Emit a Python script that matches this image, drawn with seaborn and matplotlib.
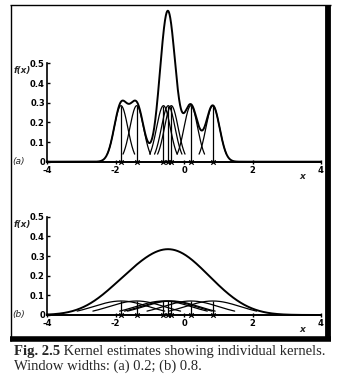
import numpy as np
import seaborn as sns
import matplotlib
matplotlib.use("Agg")
import matplotlib.pyplot as plt
from matplotlib.lines import Line2D

# ---- data ----
data_points = [-1.84, -1.38, -0.60, -0.46, -0.37, 0.20, 0.84]
window_widths = [0.2, 0.8]
kernel_extent = [2.0, 1.6]          # drawn half-width of each kernel, in window widths
panel_labels = ["(a)", "(b)"]
x_ticks = [-4, -2, 0, 2, 4]
x_tick_labels = ["-4", "-2", "0", "2", "4"]
y_ticks = [0, 0.1, 0.2, 0.3, 0.4, 0.5]
y_tick_labels = ["0", "0.1", "0.2", "0.3", "0.4", "0.5"]
caption_bold = "Fig. 2.5"
caption_rest = " Kernel estimates showing individual kernels."
caption_line2 = "Window widths: (a) 0.2; (b) 0.8."

sns.set_style("white")
plt.rcParams['font.family'] = ['DejaVu Sans']
plt.rcParams['axes.unicode_minus'] = False

W, H = 338, 383
fig = plt.figure(figsize=(W / 100, H / 100), dpi=100)
fig.patch.set_facecolor("white")


def fx(x):
    return x / W


def fy(y):
    return 1 - y / H


# axes geometry (pixels)
x_left, x_right = 47, 321
px_per_unit = 196.6
panels = [
    dict(y0=161.7, ymax=0.8),
    dict(y0=315.0, ymax=0.5),
]

n = len(data_points)
pts = np.array(data_points)
for i, (h, ext, p) in enumerate(zip(window_widths, kernel_extent, panels)):
    height_px = p["ymax"] * px_per_unit
    ax = fig.add_axes([fx(x_left), fy(p["y0"]), (x_right - x_left) / W, height_px / H])
    ax.set_facecolor("none")
    grid = np.linspace(-4, 4, 1601)
    dens = np.zeros_like(grid)
    peak = 1 / (n * h * np.sqrt(2 * np.pi))
    for xi in pts:
        dens += peak * np.exp(-0.5 * ((grid - xi) / h) ** 2)
        g = np.linspace(xi - ext * h, xi + ext * h, 200)
        k = peak * np.exp(-0.5 * ((g - xi) / h) ** 2)
        sns.lineplot(x=g, y=k, ax=ax, color="black", lw=0.9, sort=False, clip_on=False)
    sns.lineplot(x=grid, y=dens, ax=ax, color="black", lw=1.4, sort=False, clip_on=False)
    ax.vlines(pts, 0, peak, color="black", lw=0.9)
    sns.scatterplot(x=pts, y=np.zeros(n), ax=ax, marker="x", color="black",
                    s=10, linewidth=0.9, clip_on=False, zorder=5)
    ax.set_xlim(-4, 4)
    ax.set_ylim(0, p["ymax"])
    ax.spines["top"].set_visible(False)
    ax.spines["right"].set_visible(False)
    ax.spines["left"].set_bounds(0, 0.5)
    ax.spines["left"].set_linewidth(1.2)
    ax.spines["bottom"].set_linewidth(1.4)
    ax.spines["left"].set_color("black")
    ax.spines["bottom"].set_color("black")
    ax.set_xticks(x_ticks)
    ax.set_xticklabels(x_tick_labels)
    ax.set_yticks(y_ticks)
    ax.set_yticklabels(y_tick_labels)
    ax.tick_params(axis="y", direction="in", length=2.5, width=1, pad=1.5,
                   labelsize=6, colors="black", left=True)
    ax.tick_params(axis="x", direction="inout", length=3, width=1, pad=1.3,
                   labelsize=6, colors="black", bottom=True)
    for lab in ax.get_xticklabels() + ax.get_yticklabels():
        lab.set_fontweight("bold")
    ax.set_xlabel("")
    ax.set_ylabel("")

    # labels
    fig.text(fx(22.5), fy(p["y0"] - 91), "f(x)", fontsize=6.2, style="italic",
             fontweight="bold", ha="center", va="center")
    fig.text(fx(19), fy(p["y0"]), panel_labels[i], fontsize=6.5, style="italic",
             ha="center", va="center")
    fig.text(fx(302), fy(p["y0"] + 15), "x", fontsize=6.5, style="italic",
             fontweight="bold", ha="center", va="center")

# ---- frame ----
fig.add_artist(Line2D([fx(10), fx(331)], [fy(5), fy(5)], color="black", lw=1.0,
                      solid_capstyle="butt"))
fig.add_artist(Line2D([fx(10.5), fx(10.5)], [fy(5), fy(341)], color="black", lw=1.0,
                      solid_capstyle="butt"))
fig.add_artist(Line2D([fx(328), fx(328)], [fy(4.5), fy(341)], color="black", lw=4.2,
                      solid_capstyle="butt"))
fig.add_artist(Line2D([fx(10), fx(331)], [fy(338.5), fy(338.5)], color="black", lw=4.0,
                      solid_capstyle="butt"))

# ---- caption ----
cap_size = 10.5
t1 = fig.text(fx(14), fy(355.5), caption_bold, fontsize=cap_size, fontweight="bold",
              family="Liberation Serif", ha="left", va="baseline")
fig.canvas.draw()
bb = t1.get_window_extent(renderer=fig.canvas.get_renderer())
fig.text(bb.x1 / W, fy(355.5), caption_rest, fontsize=cap_size,
         family="Liberation Serif", ha="left", va="baseline")
fig.text(fx(14), fy(369.5), caption_line2, fontsize=cap_size,
         family="Liberation Serif", ha="left", va="baseline")

fig.savefig("out.png", dpi=100, facecolor="white")
